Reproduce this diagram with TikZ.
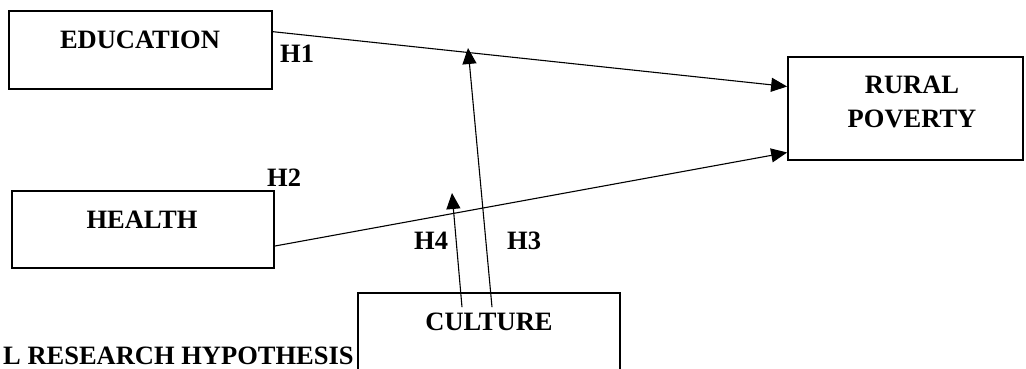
\documentclass[tikz,border=0pt]{standalone}
\usepackage{fontspec}
\setmainfont{Liberation Serif}
\usetikzlibrary{arrows.meta,calc}
\tikzset{
  varbox/.style={draw, line width=1.7pt, rectangle, inner sep=0pt},
  boxlabel/.style={anchor=base, inner sep=0pt, font=\fontsize{26.5}{34}\selectfont\bfseries},
  hyp/.style={anchor=base west, inner sep=0pt, font=\fontsize{26.5}{34}\selectfont\bfseries},
  link/.style={line width=1.1pt, -{Triangle[length=16pt,width=14pt]}},
}
\begin{document}
\begin{tikzpicture}[x=1pt, y=-1pt]
  \clip (0,0) rectangle (1026,368);
  \fill[white] (0,0) rectangle (1026,368);

  % variable boxes
  \node[varbox, minimum width=263pt, minimum height=78pt] (edu) at (140.5,50) {};
  \node[varbox, minimum width=262pt, minimum height=77pt] (hea) at (143,229.5) {};
  \node[varbox, minimum width=235pt, minimum height=103pt] (rur) at (905.5,108.5) {};
  \node[varbox, minimum width=262pt, minimum height=120pt] (cul) at (489,353) {};

  % box texts
  \node[boxlabel] (eduT) at (140,48) {EDUCATION};
  \node[boxlabel] (heaT) at (142,228) {HEALTH};
  \node[boxlabel] (rurT1) at (912,93) {RURAL};
  \node[boxlabel] (rurT2) at (912,127) {POVERTY};
  \node[boxlabel] (culT) at (489,330) {CULTURE};

  % hypothesis labels
  \node[hyp] (h1) at (280,62) {H1};
  \node[hyp] (h2) at (267,186) {H2};
  \node[hyp] (h4) at (414,249) {H4};
  \node[hyp] (h3) at (507,249) {H3};
  \node[hyp] (cap) at (3,364) {L RESEARCH HYPOTHESIS};

  % connector end points
  \coordinate (eduOut) at ($(edu.north east)!0.27!(edu.south east)$);
  \coordinate (heaOut) at ($(hea.north east)!0.71!(hea.south east)$);
  \coordinate (rurInA) at ($(rur.north west)!0.29!(rur.south west)$);
  \coordinate (rurInB) at ($(rur.north west)!0.92!(rur.south west)$);
  \coordinate (culOutA) at ($(cul.north)+(-27,15)$);
  \coordinate (culOutB) at ($(cul.north)+(3,15)$);
  \coordinate (h3Tip) at (468,48);
  \coordinate (h4Tip) at (452,193);

  % direct and moderating effects
  \draw[link] (eduOut) -- (rurInA);
  \draw[link] (heaOut) -- (rurInB);
  \draw[link] (culOutB) -- (h3Tip);
  \draw[link] (culOutA) -- (h4Tip);
\end{tikzpicture}
\end{document}
